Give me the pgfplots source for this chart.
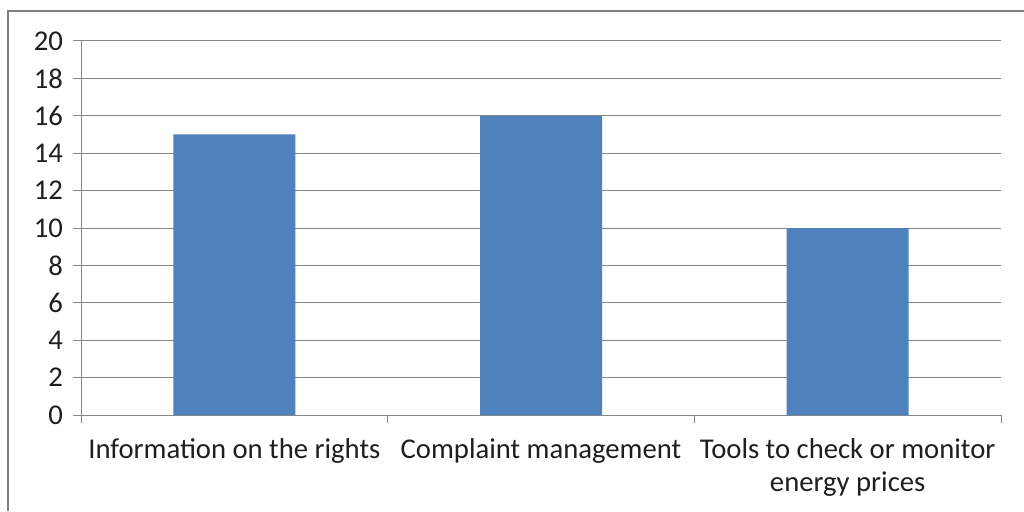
\documentclass[border=0pt]{standalone}
\usepackage{fontspec}
\setmainfont{Carlito}
\usepackage{pgfplots}
\pgfplotsset{compat=1.18}
\definecolor{barblue}{RGB}{79,129,189}
\definecolor{gridgray}{RGB}{134,134,134}
\definecolor{framegray}{RGB}{128,128,128}
\definecolor{labelink}{RGB}{30,30,30}
\begin{document}
\begin{tikzpicture}[x=0.75pt,y=0.75pt]
% picture measured in pixels from the bottom-left corner
\path[use as bounding box] (0,0) rectangle (1024,511);
\draw[framegray, line width=1.6pt] (8,0) -- (8,500) -- (1024,500);
\begin{axis}[
  at={(60.75pt,72pt)}, anchor=south west,
  scale only axis, width=690pt, height=280.5pt,
  ybar, bar width=91.5pt,
  xmin=0.5, xmax=3.5, ymin=0, ymax=20,
  enlargelimits=false,
  xtick={1,2,3},
  xticklabels={Information on the rights, Complaint management, {Tools to check or monitor\\energy prices}},
  minor xtick={0.5,1.5,2.5,3.5},
  ytick={0,2,...,20},
  axis x line=bottom, axis y line=left,
  axis line style={gridgray,-,line width=0.75pt},
  ymajorgrids, grid style={gridgray,line width=0.75pt},
  tick align=outside,
  major tick length=6pt, minor tick length=6pt,
  major x tick style={draw=none},
  minor x tick style={gridgray,line width=0.75pt},
  y tick style={gridgray,line width=0.75pt},
  /pgf/number format/assume math mode=true,
  tick label style={font=\fontsize{21.5}{25}\selectfont, text=labelink},
  x tick label style={align=center, yshift=-8pt},
  yticklabel style={xshift=-4pt},
]
\addplot[fill=barblue, draw=none] coordinates {(1,15) (2,16) (3,10)};
\end{axis}
\end{tikzpicture}
\end{document}
